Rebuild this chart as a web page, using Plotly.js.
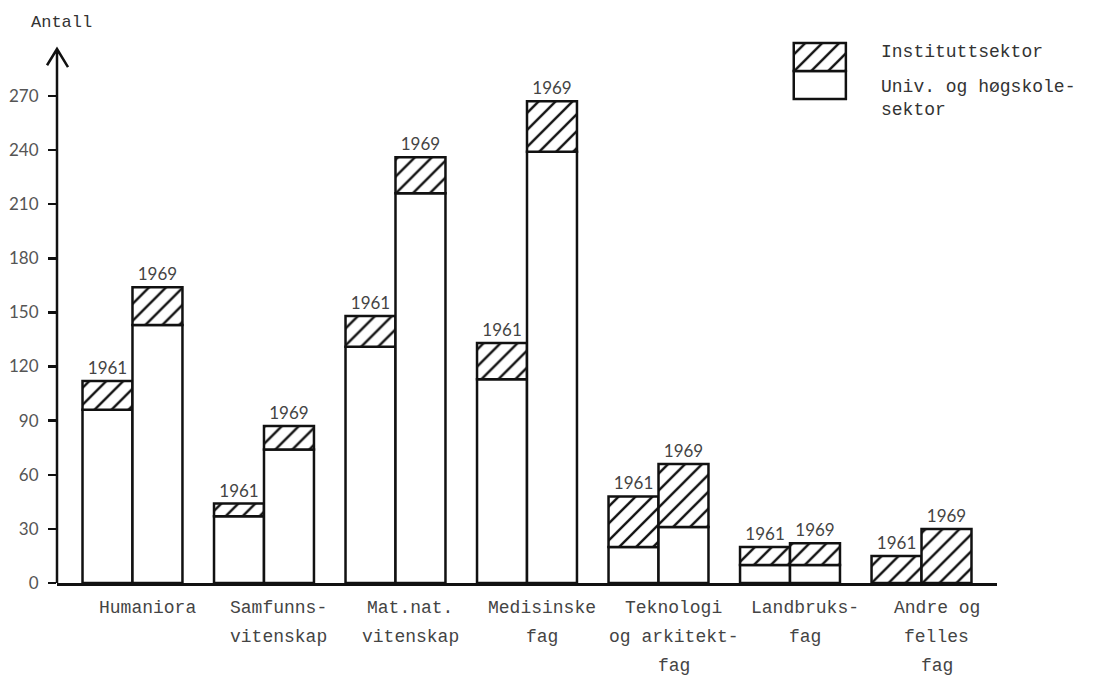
<!DOCTYPE html>
<html>
<head>
<meta charset="utf-8">
<script src="https://cdn.plot.ly/plotly-3.0.1.min.js"></script>
<style>html,body{margin:0;padding:0;background:#fff;}#chart{width:1120px;height:678px;}</style>
</head>
<body>
<div id="chart"></div>
<script>
// ---- data ----
const categories = ['Humaniora', 'Samfunnsvitenskap', 'Mat.nat. vitenskap', 'Medisinske fag',
  'Teknologi og arkitektfag', 'Landbruksfag', 'Andre og felles fag'];
const categoryLabelLines = [
  ['Humaniora'],
  ['Samfunns-', 'vitenskap'],
  ['Mat.nat.', 'vitenskap'],
  ['Medisinske', 'fag'],
  ['Teknologi', 'og arkitekt-', 'fag'],
  ['Landbruks-', 'fag'],
  ['Andre og', 'felles', 'fag']
];
const years = ['1961', '1969'];
const univ1961 = [96, 37, 131, 113, 20, 10, 0];
const inst1961 = [16, 7, 17, 20, 28, 10, 15];
const univ1969 = [143, 74, 216, 239, 31, 10, 0];
const inst1969 = [21, 13, 20, 28, 35, 12, 30];
const seriesNames = ['Instituttsektor', 'Univ. og høgskole-<br>sektor'];
const yTicks = [0, 30, 60, 90, 120, 150, 180, 210, 240, 270];
const yAxisTitle = 'Antall';

// ---- styles ----
const INK = '#111';
const monoFont = 'Liberation Mono, DejaVu Sans Mono, monospace';
const handFont = 'Lato, DejaVu Sans, sans-serif';
const hatch = {shape: '/', fgcolor: INK, bgcolor: 'white', size: 12, solidity: 0.2};
const outline = {color: INK, width: 2.5};

function univTrace(vals, group) {
  return {type: 'bar', x: categories, y: vals, offsetgroup: group,
    marker: {color: 'white', line: outline}, hoverinfo: 'skip', showlegend: false};
}
function instTrace(vals, base, group, yr) {
  return {type: 'bar', x: categories, y: vals, base: base, offsetgroup: group,
    marker: {color: 'white', pattern: hatch, line: outline},
    text: categories.map(() => yr), textposition: 'outside', constraintext: 'none',
    cliponaxis: false, textfont: {family: handFont, size: 17, color: '#444'},
    hoverinfo: 'skip', showlegend: false};
}

const traces = [
  univTrace(univ1961, 'a'),
  instTrace(inst1961, univ1961, 'a', years[0]),
  univTrace(univ1969, 'b'),
  instTrace(inst1969, univ1969, 'b', years[1]),
  // legend swatch (own tiny subplot)
  {type: 'bar', x: [0], y: [1], base: [0], width: [1], offsetgroup: 'L', xaxis: 'x3', yaxis: 'y3',
    marker: {color: 'white', line: outline}, hoverinfo: 'skip', showlegend: false, name: seriesNames[1]},
  {type: 'bar', x: [0], y: [1], base: [1], width: [1], offsetgroup: 'L', xaxis: 'x3', yaxis: 'y3',
    marker: {color: 'white', pattern: hatch, line: outline}, hoverinfo: 'skip', showlegend: false, name: seriesNames[0]}
];

const yMax = 301;
const annotations = [];
categoryLabelLines.forEach((lines, i) => {
  lines.forEach((ln, j) => {
    annotations.push({x: categories[i], xref: 'x', y: 0, yref: 'paper', yanchor: 'middle',
      xanchor: 'center', xshift: 15, yshift: -25 - 29 * j, text: ln, showarrow: false,
      font: {family: monoFont, size: 18, color: '#444'}});
  });
});
annotations.push({x: 0.005, xref: 'paper', y: 1.033, yref: 'paper', text: yAxisTitle,
  showarrow: false, xanchor: 'center', yanchor: 'middle', font: {family: monoFont, size: 17, color: '#333'}});
annotations.push({x: 0.874, xref: 'paper', y: 0.978, yref: 'paper', text: seriesNames[0],
  showarrow: false, xanchor: 'left', yanchor: 'middle', font: {family: monoFont, size: 18, color: '#333'}});
annotations.push({x: 0.874, xref: 'paper', y: 0.892, yref: 'paper', text: seriesNames[1],
  showarrow: false, xanchor: 'left', yanchor: 'middle', align: 'left', font: {family: monoFont, size: 18, color: '#333'}});

const layout = {
  width: 1120, height: 678,
  margin: {l: 57, r: 123, t: 40, b: 95},
  paper_bgcolor: 'white', plot_bgcolor: 'white',
  barmode: 'group', bargap: 0.24, bargroupgap: 0,
  showlegend: false,
  xaxis: {type: 'category', range: [-0.574, 6.574], showticklabels: false, ticks: '',
    showgrid: false, zeroline: false, showline: true, linecolor: INK, linewidth: 2.5},
  yaxis: {range: [0, yMax], tickvals: yTicks, ticks: 'outside', ticklen: 8, tickwidth: 2.5,
    tickcolor: INK, showline: false, showgrid: false, zeroline: false, ticklabelstandoff: 6,
    tickfont: {family: handFont, size: 17, color: '#555'}},
  yaxis2: {overlaying: 'y', side: 'left', range: [0, yMax], tickvals: yTicks, ticks: 'inside',
    ticklen: 7, tickwidth: 2.5, tickcolor: INK, showticklabels: false, showgrid: false,
    zeroline: false, showline: false},
  xaxis3: {domain: [0.781, 0.842], anchor: 'y3', range: [-0.55, 0.55], visible: false, fixedrange: true},
  yaxis3: {domain: [0.886, 0.9996], anchor: 'x3', range: [-0.1, 2.1], visible: false, fixedrange: true},
  shapes: [{type: 'path', xref: 'paper', yref: 'y',
    path: 'M 0,0 L 0,296 M -0.0106,287 L 0,296 L 0.0117,286',
    line: {color: INK, width: 2.5}}],
  annotations: annotations
};

Plotly.newPlot('chart', traces, layout, {displayModeBar: false, staticPlot: true});
</script>
</body>
</html>
